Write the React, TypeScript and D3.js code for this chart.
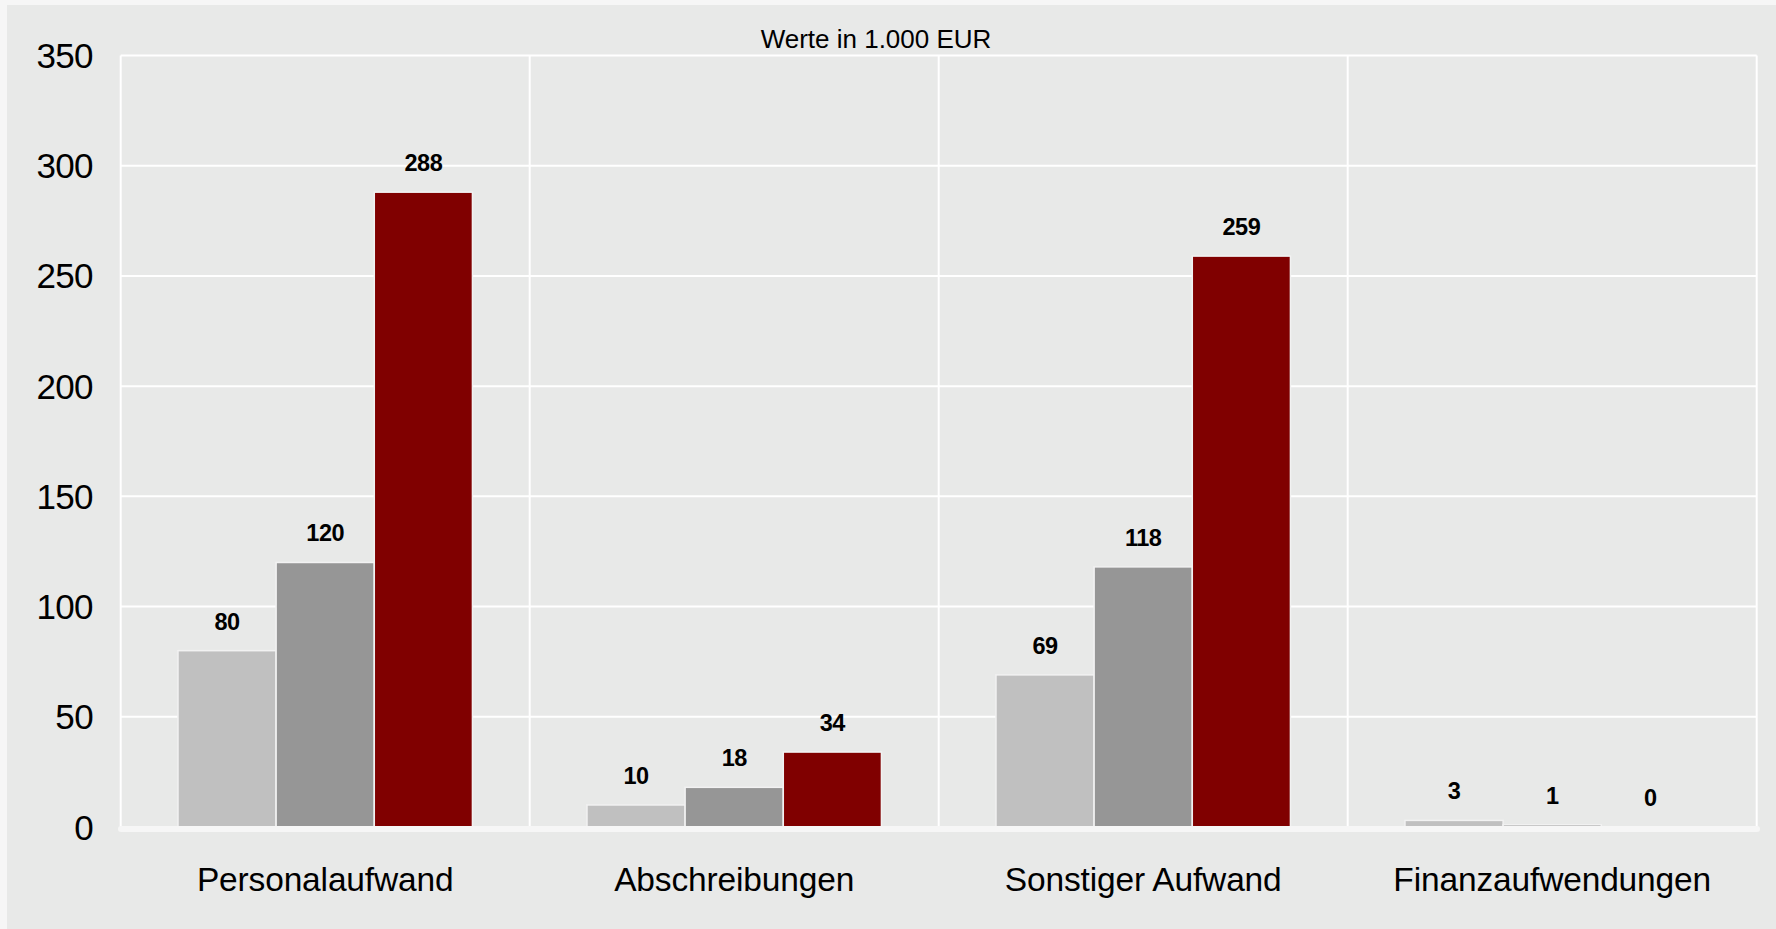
import React from "react";
import * as d3 from "d3";

const categories = ["Personalaufwand", "Abschreibungen", "Sonstiger Aufwand", "Finanzaufwendungen"];
const seriesA = [80, 10, 69, 3];
const seriesB = [120, 18, 118, 1];
const seriesC = [288, 34, 259, 0];
const yTicks = [0, 50, 100, 150, 200, 250, 300, 350];
const title = "Werte in 1.000 EUR";

const W = 1776;
const H = 929;
const left = 120.7;
const right = 1756.7;
const top = 55.5;
const bottom = 827;

export default function App() {
  const series = [
    { values: seriesA, color: "#c0c0c0" },
    { values: seriesB, color: "#969696" },
    { values: seriesC, color: "#800000" },
  ];
  const x = d3.scaleBand<string>().domain(categories).range([left, right]).paddingInner(0).paddingOuter(0);
  const y = d3.scaleLinear().domain([0, 350]).range([bottom, top]);
  const groupW = x.bandwidth() * 0.72;
  const barW = groupW / 3;
  const font = "'Liberation Sans', Arial, sans-serif";

  return (
    <svg width={W} height={H} style={{ position: "absolute", left: 0, top: 0, display: "block" }}>
      <rect x={0} y={0} width={W} height={H} fill="#f6f6f6" />
      <rect x={7} y={5} width={1769} height={924} fill="#e8e9e8" />
      {yTicks.map((t) => (
        <line key={"g" + t} x1={left} x2={right} y1={y(t)} y2={y(t)} stroke="#ffffff" strokeWidth={2} />
      ))}
      {categories.map((c) => (
        <line key={"v" + c} x1={x(c)!} x2={x(c)!} y1={top} y2={bottom} stroke="#ffffff" strokeWidth={2} />
      ))}
      <line x1={right} x2={right} y1={top} y2={bottom} stroke="#ffffff" strokeWidth={2} />
      {categories.map((c, i) => {
        const gx = x(c)! + (x.bandwidth() - groupW) / 2;
        return series.map((s, j) => {
          const v = s.values[i];
          const bx = gx + j * barW;
          return (
            <g key={c + j}>
              <rect x={bx} y={y(v)} width={barW} height={bottom - y(v)} fill={s.color} stroke="#f2f2f2" strokeWidth={1.5} />
              <text
                x={bx + barW / 2}
                y={y(v) - 21}
                textAnchor="middle"
                fontFamily={font}
                fontWeight="bold"
                fontSize={23.5}
                letterSpacing={-0.5}
                fill="#000"
              >
                {v}
              </text>
            </g>
          );
        });
      })}
      <line x1={121} x2={1757} y1={829} y2={829} stroke="#f6f6f6" strokeWidth={6} strokeLinecap="round" />
      {yTicks.map((t) => (
        <text
          key={"t" + t}
          x={93}
          y={y(t) + 12.5}
          textAnchor="end"
          fontFamily={font}
          fontSize={35}
          letterSpacing={-0.6}
          fill="#000"
        >
          {t}
        </text>
      ))}
      {categories.map((c) => (
        <text
          key={"c" + c}
          x={x(c)! + x.bandwidth() / 2}
          y={891}
          textAnchor="middle"
          fontFamily={font}
          fontSize={33.5}
          letterSpacing={-0.15}
          fill="#000"
        >
          {c}
        </text>
      ))}
      <text x={876} y={48} textAnchor="middle" fontFamily={font} fontSize={26} fill="#000">
        {title}
      </text>
    </svg>
  );
}
